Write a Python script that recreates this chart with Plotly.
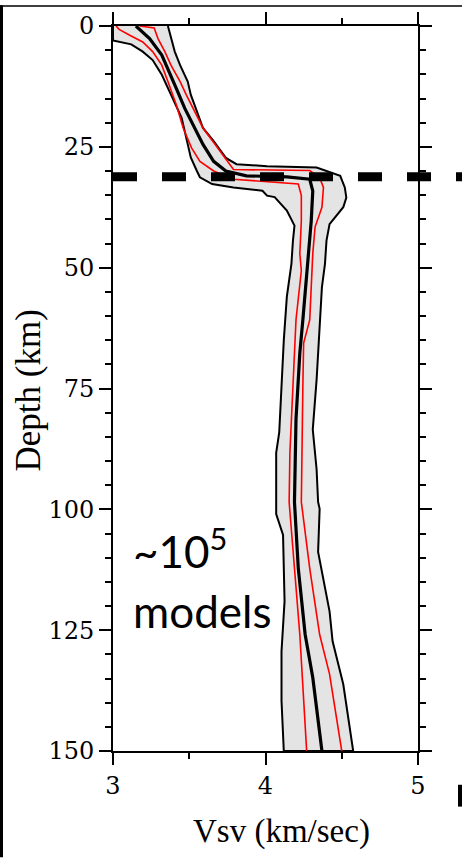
import plotly.graph_objects as go

# Vsv posterior summary vs depth
band_left_depth = [0, 3.0, 3.8, 5.3, 7.05, 10.1, 14.2, 19.0, 23.1, 27.2, 30.0, 31.3, 32.7, 33.4, 34.1, 35.1,
                   35.4, 38.2, 41.3, 44.4, 49.2, 56.0, 65.0, 74.5, 84.1, 88.3, 98.5, 101, 105.3, 119, 129.4, 139.6, 150]
band_left_vsv = [3.0, 3.0, 3.12, 3.195, 3.26, 3.32, 3.38, 3.45, 3.48, 3.51, 3.55, 3.57, 3.65, 3.79, 3.98, 4.01,
                 4.06, 4.14, 4.19, 4.18, 4.17, 4.14, 4.12, 4.105, 4.09, 4.07, 4.07, 4.07, 4.115, 4.125, 4.105, 4.105, 4.12]

band_right_depth = [0, 2.6, 5.3, 8.1, 11.5, 14.2, 17.7, 21.1, 23.8, 27.3, 28.6, 29.0, 29.3, 30.3, 31.0, 33.4, 35.5,
                    37.5, 41.0, 44.4, 49.2, 54, 64.3, 73.2, 83.5, 91.7, 98.5, 99.9, 108.8, 121.1, 127.3, 136.2, 150]
band_right_vsv = [3.36, 3.38, 3.405, 3.44, 3.49, 3.51, 3.55, 3.59, 3.66, 3.74, 3.81, 4.01, 4.335, 4.42, 4.49, 4.52, 4.53,
                  4.51, 4.42, 4.40, 4.39, 4.37, 4.35, 4.335, 4.31, 4.335, 4.345, 4.355, 4.345, 4.42, 4.44, 4.51, 4.575]

median_depth = [0, 2.6, 6.0, 8.8, 12.9, 17.0, 20.4, 24.5, 28.0, 30.0, 31.0, 31.2, 31.7, 34.1, 40.3, 48.5,
                60.8, 67.7, 81.4, 98.5, 112.2, 125.9, 134.8, 150]
median_vsv = [3.15, 3.24, 3.32, 3.36, 3.415, 3.47, 3.525, 3.59, 3.66, 3.74, 3.875, 4.14, 4.29, 4.31, 4.30, 4.28,
              4.245, 4.225, 4.20, 4.19, 4.215, 4.26, 4.31, 4.37]

sig_lo_depth = [0, 0.7, 1.9, 3.3, 5.3, 8.1, 11.5, 16.3, 21.1, 25.2, 28.0, 30.0, 31.7, 32.4, 32.7, 35.1, 40.3,
                47.1, 50.6, 60.8, 74.5, 88.3, 98.5, 108.8, 125.9, 150]
sig_lo_vsv = [3.02, 3.04, 3.11, 3.195, 3.26, 3.32, 3.36, 3.415, 3.46, 3.515, 3.57, 3.66, 3.79, 4.05, 4.215, 4.235,
              4.235, 4.225, 4.235, 4.20, 4.18, 4.16, 4.155, 4.18, 4.225, 4.27]

sig_hi_depth = [0, 0.4, 2.6, 5.3, 8.1, 11.5, 14.2, 17.7, 21.1, 24.5, 28.6, 29.7, 29.9, 31.4, 33.4, 37.5, 41.6,
                47.1, 60.8, 65.6, 74.5, 98.5, 112.2, 125.9, 134.1, 150]
sig_hi_vsv = [3.175, 3.27, 3.295, 3.34, 3.38, 3.44, 3.48, 3.535, 3.59, 3.67, 3.765, 3.79, 4.29, 4.355, 4.38, 4.37,
              4.325, 4.31, 4.29, 4.25, 4.245, 4.235, 4.29, 4.355, 4.42, 4.50]

moho_depth = 31.2

x_range = [3, 5]
y_range = [150, 0]
x_ticks = [3, 4, 5]
y_ticks = [0, 25, 50, 75, 100, 125, 150]

W, H = 462, 858
ML, MR, MT, MB = 113, 44, 21, 107
PW, PH = W - ML - MR, H - MT - MB

fig = go.Figure()

# ensemble envelope (min/max)
fig.add_trace(go.Scatter(
    x=band_left_vsv + band_right_vsv[::-1],
    y=band_left_depth + band_right_depth[::-1],
    mode="lines", fill="toself", fillcolor="#e4e4e4",
    line=dict(color="black", width=2), hoverinfo="skip", showlegend=False))

# one-sigma bounds
for xs, ys in [(sig_lo_vsv, sig_lo_depth), (sig_hi_vsv, sig_hi_depth)]:
    fig.add_trace(go.Scatter(x=xs, y=ys, mode="lines",
                             line=dict(color="#ff0000", width=1.6), showlegend=False))

# median
fig.add_trace(go.Scatter(x=median_vsv, y=median_depth, mode="lines",
                         line=dict(color="black", width=3.2), showlegend=False))

# empty trace so the mirrored top/right axes get drawn
fig.add_trace(go.Scatter(x=[None], y=[None], xaxis="x2", yaxis="y2", showlegend=False,
                         hoverinfo="skip"))

tick_style = dict(ticks="outside", ticklen=12, tickwidth=1.6, tickcolor="black",
                  showgrid=False, zeroline=False)
frame = dict(showline=True, linecolor="black", linewidth=2)
tfont = dict(family="DejaVu Serif", size=24, color="black")

xminor = dict(dtick=0.5, tick0=3, ticks="outside", ticklen=6, tickwidth=1.6,
              tickcolor="black", showgrid=False)
yminor = dict(dtick=5, tick0=0, ticks="outside", ticklen=6, tickwidth=1.6,
              tickcolor="black", showgrid=False)

fig.update_layout(
    xaxis=dict(range=x_range, tickvals=x_ticks, minor=xminor, tickfont=tfont,
               mirror=True, **frame, **tick_style),
    yaxis=dict(range=y_range, tickvals=y_ticks, minor=yminor, tickfont=tfont,
               mirror=True, **frame, **tick_style),
    xaxis2=dict(range=x_range, tickvals=x_ticks, minor=xminor, overlaying="x", side="top",
                showticklabels=False, anchor="y2", **frame, **tick_style),
    yaxis2=dict(range=y_range, tickvals=y_ticks, minor=yminor, overlaying="y", side="right",
                showticklabels=False, anchor="x2", **frame, **tick_style),
)

shapes = [
    # Moho
    dict(type="line", xref="paper", yref="y", x0=0, x1=(W - ML) / PW, y0=moho_depth, y1=moho_depth,
         line=dict(color="black", width=9, dash="24px,25px"), layer="above"),
    # page edges
    dict(type="rect", xref="paper", yref="paper", x0=-ML / PW, x1=(-ML + 3) / PW,
         y0=-MB / PH, y1=(PH + MT) / PH, fillcolor="black", line_width=0),
    dict(type="rect", xref="paper", yref="paper", x0=-ML / PW, x1=(W - ML) / PW,
         y0=(PH + MT - 1.5) / PH, y1=(PH + MT) / PH, fillcolor="black", line_width=0),
    dict(type="rect", xref="paper", yref="paper", x0=(458 - ML) / PW, x1=(W - ML) / PW,
         y0=(H - MB - 807) / PH, y1=(H - MB - 785) / PH, fillcolor="black", line_width=0),
]

annotations = [
    dict(text="Vsv (km/sec)", xref="paper", yref="paper", x=0.5, y=0, xshift=16, yshift=-60,
         xanchor="center", yanchor="top", showarrow=False,
         font=dict(family="Liberation Serif", size=33, color="black")),
    dict(text="Depth (km)", xref="paper", yref="paper", x=0, y=0.5, xshift=-85, yshift=-2,
         textangle=-90, xanchor="center", yanchor="middle", showarrow=False,
         font=dict(family="Liberation Serif", size=35, color="black")),
    dict(text="~10<sup>5</sup>", xref="x", yref="y", x=3.12, y=108.0, xanchor="left", yanchor="middle",
         showarrow=False, font=dict(family="Lato", size=44, color="black")),
    dict(text="models", xref="x", yref="y", x=3.12, y=121.0, xanchor="left", yanchor="middle",
         showarrow=False, font=dict(family="Lato", size=44, color="black")),
]

fig.update_layout(width=W, height=H, margin=dict(l=ML, r=MR, t=MT, b=MB, pad=0),
                  paper_bgcolor="white", plot_bgcolor="white",
                  shapes=shapes, annotations=annotations, showlegend=False)

fig.write_html("out.html")
